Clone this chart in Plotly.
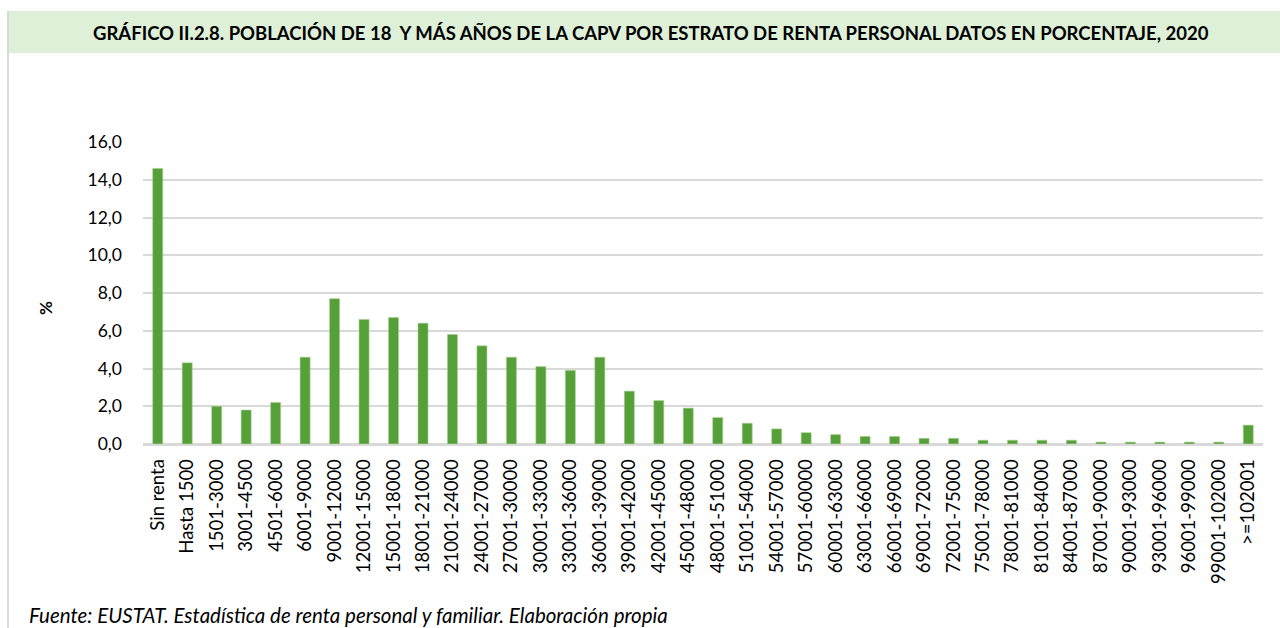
import plotly.graph_objects as go

categories = ["Sin renta", "Hasta 1500", "1501-3000", "3001-4500", "4501-6000", "6001-9000",
              "9001-12000", "12001-15000", "15001-18000", "18001-21000", "21001-24000",
              "24001-27000", "27001-30000", "30001-33000", "33001-36000", "36001-39000",
              "39001-42000", "42001-45000", "45001-48000", "48001-51000", "51001-54000",
              "54001-57000", "57001-60000", "60001-63000", "63001-66000", "66001-69000",
              "69001-72000", "72001-75000", "75001-78000", "78001-81000", "81001-84000",
              "84001-87000", "87001-90000", "90001-93000", "93001-96000", "96001-99000",
              "99001-102000", ">=102001"]
values = [14.6, 4.3, 2.0, 1.8, 2.2, 4.6, 7.7, 6.6, 6.7, 6.4, 5.8,
          5.2, 4.6, 4.1, 3.9, 4.6, 2.8, 2.3, 1.9, 1.4, 1.1,
          0.8, 0.6, 0.5, 0.4, 0.4, 0.3, 0.3, 0.2, 0.2, 0.2,
          0.2, 0.1, 0.1, 0.1, 0.1, 0.1, 1.0]
y_ticks = [0, 2, 4, 6, 8, 10, 12, 14, 16]

title_text = "GRÁFICO II.2.8. POBLACIÓN DE 18  Y MÁS AÑOS DE LA CAPV POR ESTRATO DE RENTA PERSONAL DATOS EN PORCENTAJE, 2020"
source_text = "Fuente: EUSTAT. Estadística de renta personal y familiar. Elaboración propia"

W, H = 1280, 628
L, R, T, B = 143, 17, 142, 184
pw, ph = W - L - R, H - T - B

def px(x):
    return (x - L) / pw

def py(y):
    return (H - B - y) / ph

FONT = "Lato"

fig = go.Figure(go.Bar(
    x=categories, y=values,
    marker=dict(color="#56A03A", line=dict(color="#A9D08E", width=0.6)),
    width=0.34,
    hoverinfo="x+y",
))

fig.update_layout(
    width=W, height=H,
    margin=dict(l=L, r=R, t=T, b=B),
    paper_bgcolor="white", plot_bgcolor="white",
    separators=",.",
    showlegend=False,
    font=dict(family=FONT, color="#000000"),
    xaxis=dict(
        type="category", tickangle=-90, showgrid=False,
        tickfont=dict(family=FONT, size=18.5, color="#000000"),
        showline=True, linecolor="#D9D9D9", linewidth=1.5,
        ticks="", ticklabelstandoff=6,
    ),
    yaxis=dict(
        range=[0, 16], tickvals=y_ticks, tickformat=".1f",
        showgrid=True, gridcolor="#D9D9D9", gridwidth=1.5,
        zeroline=True, zerolinecolor="#D9D9D9", zerolinewidth=1.5,
        tickfont=dict(family=FONT, size=17.5, color="#000000"),
        ticks="", ticklabelstandoff=20,
    ),
    shapes=[
        dict(type="rect", xref="paper", yref="paper",
             x0=px(8), x1=px(1282), y0=py(53), y1=py(11),
             fillcolor="#DEF0D8", line=dict(width=0), layer="below"),
        dict(type="line", xref="paper", yref="paper",
             x0=px(8), x1=px(8), y0=py(11), y1=py(630),
             line=dict(color="#D9D9D9", width=2)),
    ],
    annotations=[
        dict(text="<b>" + title_text + "</b>", xref="paper", yref="paper",
             x=px(651), y=py(33), xanchor="center", yanchor="middle",
             showarrow=False, font=dict(family=FONT, size=18.5, color="#000000")),
        dict(text="<b>%</b>", xref="paper", yref="paper",
             x=px(45), y=py(308), xanchor="center", yanchor="middle",
             textangle=-90, showarrow=False,
             font=dict(family=FONT, size=17, color="#000000")),
        dict(text="<i>" + source_text + "</i>", xref="paper", yref="paper",
             x=px(27), y=py(615), xanchor="left", yanchor="middle",
             showarrow=False, font=dict(family=FONT, size=20.5, color="#000000")),
    ],
)

fig.write_html("out.html", config={"displayModeBar": False},
               post_script="document.body.style.margin='0';document.body.style.overflow='hidden';")
